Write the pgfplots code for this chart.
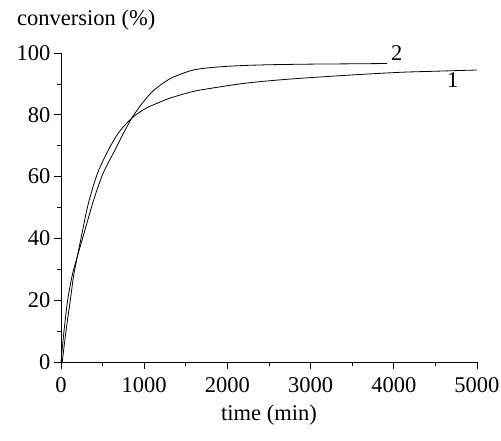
\documentclass[border=0pt]{standalone}
\usepackage{pgfplots}
\pgfplotsset{compat=1.18}
\usepackage{fontspec}
\setmainfont{Liberation Serif}
\begin{document}
\begin{tikzpicture}
\path[use as bounding box] (-61pt,-78pt) rectangle (440pt,362pt);
\begin{axis}[
 at={(0pt,0pt)}, anchor=origin,
 scale only axis, width=416pt, height=309pt,
 xmin=0, xmax=5000, ymin=0, ymax=100,
 axis x line*=bottom, axis y line*=left,
 x axis line style={-, line width=0.8pt},
 y axis line style={-, line width=0.8pt},
 xtick={0,1000,...,5000}, ytick={0,20,...,100},
 minor x tick num=1, minor y tick num=1,
 tick align=outside,
 major tick length=7pt, minor tick length=3.5pt,
 every tick/.style={black, line width=0.8pt},
 /pgf/number format/assume math mode=true,
 scaled x ticks=false,
 xticklabels={0,1000,2000,3000,4000,5000},
 every x tick label/.style={font=\fontsize{22.5}{26}\selectfont, anchor=north, yshift=-5pt},
 every y tick label/.style={font=\fontsize{22.5}{26}\selectfont, anchor=east},
 xlabel={time (min)},
 xlabel style={font=\fontsize{22.5}{26}\selectfont, inner sep=0pt, at={(axis description cs:0.5,0)}, anchor=base, yshift=-58pt},
 ylabel={conversion (\%)},
 ylabel style={font=\fontsize{22.5}{26}\selectfont, inner sep=0pt, rotate=-90, at={(axis description cs:0,1)}, anchor=base west, xshift=-44pt, yshift=28pt},
 clip=false,
]
\addplot[black, line width=0.8pt, smooth, tension=0.5] coordinates {
 (15,0) (60,10) (112,20) (152,28) (195,34) (261,42.7) (328,51.2) (435,60.8) (569,68.6) (700,74.5) (850,78.9) (1000,81.8) (1110,83.2) (1300,85.3) (1510,87) (1671,88) (2151,90) (2500,91) (2873,91.8) (3500,92.9) (4075,93.75) (4500,94.1) (5000,94.5)
};
\addplot[black, line width=0.8pt, smooth, tension=0.5] coordinates {
 (0,0) (36,10) (80,20) (136,28.2) (195,34) (288,42.7) (388,52) (505,61) (649,68.6) (750,74) (850,78.9) (950,82.8) (1030,85.5) (1110,87.8) (1230,90.3) (1350,92.2) (1590,94.5) (1850,95.4) (2151,95.9) (2500,96.2) (3000,96.4) (3500,96.5) (3920,96.6)
};
\node[font=\fontsize{22.5}{26}\selectfont] at (axis cs:4035,99.9) {2};
\node[font=\fontsize{22.5}{26}\selectfont] at (axis cs:4708,91.3) {1};
\end{axis}
\end{tikzpicture}
\end{document}
